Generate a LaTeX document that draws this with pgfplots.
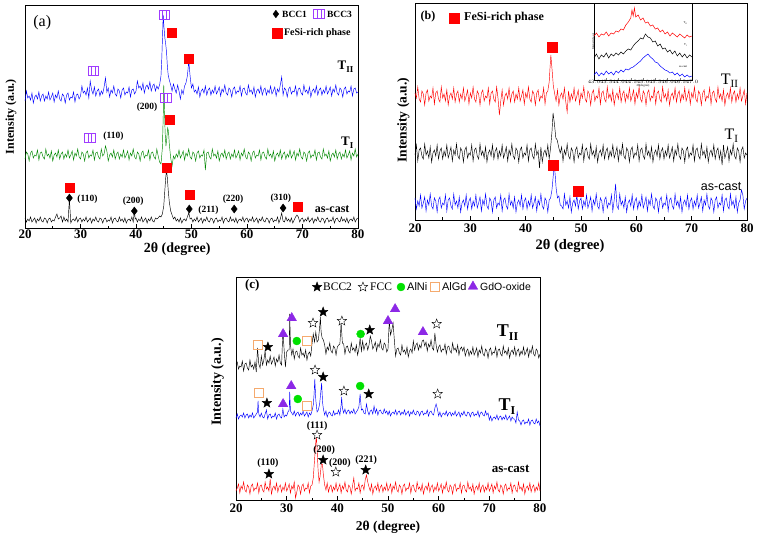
\documentclass[border=0pt]{standalone}
\usepackage{pgfplots}
\pgfplotsset{compat=1.18}
\usepackage{fontspec}
\setmainfont{Liberation Serif}
\newfontfamily\arialf{Liberation Sans}
\definecolor{bccp}{RGB}{160,60,255}
\definecolor{gdo}{RGB}{140,40,230}
\definecolor{algd}{RGB}{245,170,110}
\definecolor{alni}{RGB}{0,225,0}
\definecolor{tgreen}{RGB}{0,135,0}
\pgfdeclareplotmark{bccthree}{%
  \pgfpathrectangle{\pgfpoint{-1.2\pgfplotmarksize}{-\pgfplotmarksize}}{\pgfpoint{2.4\pgfplotmarksize}{2\pgfplotmarksize}}%
  \pgfpathmoveto{\pgfpoint{-0.4\pgfplotmarksize}{-\pgfplotmarksize}}\pgfpathlineto{\pgfpoint{-0.4\pgfplotmarksize}{\pgfplotmarksize}}%
  \pgfpathmoveto{\pgfpoint{0.4\pgfplotmarksize}{-\pgfplotmarksize}}\pgfpathlineto{\pgfpoint{0.4\pgfplotmarksize}{\pgfplotmarksize}}%
  \pgfusepathqstroke}
\pgfdeclareplotmark{fivestar}{%
  \pgfpathmoveto{\pgfpointpolar{90}{\pgfplotmarksize}}%
  \pgfpathlineto{\pgfpointpolar{126}{0.42\pgfplotmarksize}}%
  \pgfpathlineto{\pgfpointpolar{162}{\pgfplotmarksize}}%
  \pgfpathlineto{\pgfpointpolar{198}{0.42\pgfplotmarksize}}%
  \pgfpathlineto{\pgfpointpolar{234}{\pgfplotmarksize}}%
  \pgfpathlineto{\pgfpointpolar{270}{0.42\pgfplotmarksize}}%
  \pgfpathlineto{\pgfpointpolar{306}{\pgfplotmarksize}}%
  \pgfpathlineto{\pgfpointpolar{342}{0.42\pgfplotmarksize}}%
  \pgfpathlineto{\pgfpointpolar{18}{\pgfplotmarksize}}%
  \pgfpathlineto{\pgfpointpolar{54}{0.42\pgfplotmarksize}}%
  \pgfpathclose\pgfusepathqfillstroke}
\pgfplotsset{
  xrdaxis/.style={scale only axis, xmin=20, xmax=80, ymin=0,
    xtick={20,30,...,80}, minor x tick num=1, ytick=\empty,
    tick align=inside, xtick pos=left,
    axis line style={line width=0.8pt},
    major tick length=4pt, minor tick length=2.5pt,
    every tick/.style={black, line width=0.8pt},
    /pgf/number format/assume math mode=true,
    xticklabel style={font=\bfseries\fontsize{13}{13}\selectfont},
    clip=false, ylabel={Intensity (a.u.)}, xlabel={2θ (degree)}},
  trace/.style={line width=0.45pt, forget plot},
}
\begin{document}
\begin{tikzpicture}[x=1pt,y=1pt]
\path[use as bounding box] (0,0) rectangle (758,539);
% ================= panel (a) =================
\begin{axis}[xrdaxis, at={(25pt,311pt)}, anchor=south west, width=333pt, height=223pt, ymax=223,
  xticklabel style={yshift=2pt},
  ylabel style={at={(rel axis cs:-0.015,0.5)}, anchor=south, font=\bfseries\fontsize{12}{12}\selectfont},
  xlabel style={at={(rel axis cs:0.457,0)}, anchor=center, yshift=-21pt, font=\bfseries\fontsize{14}{14}\selectfont}]
\addplot[black, trace] coordinates {(20,10)(20.25,6)(20.5,9)(20.75,7)(21,11)(21.25,6)(21.5,8)(21.75,10)(22,5)(22.25,9)(22.5,7)(22.75,11)(23,7)(23.25,6)(23.5,10)(23.75,9)(24,5)(24.25,9)(24.5,10)(24.75,6)(25,8)(25.25,7)(25.5,11)(25.75,14)(26,9)(26.25,10)(26.5,12)(26.75,6)(27,11)(27.25,7)(27.5,9)(27.75,6)(28,29)(28.25,5)(28.5,8)(28.75,9)(29,7)(29.25,11)(29.5,6)(29.75,9)(30,10)(30.25,6)(30.5,9)(30.75,7)(31,11)(31.25,6)(31.5,8)(31.75,10)(32,5)(32.25,9)(32.5,7)(32.75,11)(33,7)(33.25,6)(33.5,10)(33.75,9)(34,5)(34.25,9)(34.5,10)(34.75,6)(35,8)(35.25,7)(35.5,11)(35.75,5)(36,9)(36.25,10)(36.5,7)(36.75,6)(37,11)(37.25,7)(37.5,9)(37.75,6)(38,10)(38.25,5)(38.5,8)(38.75,9)(39,7)(39.25,11)(39.5,6)(39.7,17)(39.85,9)(40,10)(40.25,6)(40.5,9)(40.75,7)(41,11)(41.25,6)(41.5,8)(41.75,10)(42,5)(42.25,9)(42.5,7)(42.75,11)(43,7)(43.25,6)(43.5,10)(43.75,9)(44,10)(44.25,12)(44.5,11)(44.75,14)(45,22)(45.2,38)(45.35,50)(45.5,58)(45.65,50)(45.8,38)(46,26)(46.25,17)(46.5,13)(46.75,9)(47,11)(47.25,7)(47.5,9)(47.75,6)(48,10)(48.25,5)(48.5,8)(48.75,9)(49,7)(49.25,11)(49.5,15)(49.65,12)(49.75,9)(50,10)(50.25,6)(50.5,9)(50.75,7)(51,11)(51.25,6)(51.5,8)(51.75,10)(52,5)(52.25,9)(52.5,7)(52.75,11)(53,7)(53.25,6)(53.5,10)(53.75,9)(54,5)(54.25,9)(54.5,10)(54.75,6)(55,8)(55.25,7)(55.5,11)(55.75,5)(56,9)(56.25,10)(56.5,7)(56.75,6)(57,11)(57.25,7)(57.5,9)(57.75,6)(58,10)(58.25,5)(58.5,8)(58.75,9)(59,7)(59.25,11)(59.5,6)(59.75,9)(60,10)(60.25,6)(60.5,9)(60.75,7)(61,11)(61.25,6)(61.5,8)(61.75,10)(62,5)(62.25,9)(62.5,7)(62.75,11)(63,7)(63.25,6)(63.5,10)(63.75,9)(64,5)(64.25,9)(64.5,10)(64.75,6)(65,8)(65.25,7)(65.5,11)(65.75,5)(66,9)(66.25,15)(66.5,7)(66.75,6)(67,11)(67.25,7)(67.5,9)(67.75,6)(68,10)(68.25,5)(68.5,8)(68.75,11)(69,13)(69.25,11)(69.5,6)(69.75,9)(70,10)(70.25,6)(70.5,9)(70.75,7)(71,11)(71.25,6)(71.5,8)(71.75,10)(72,5)(72.25,9)(72.5,7)(72.75,11)(73,7)(73.25,6)(73.5,10)(73.75,9)(74,5)(74.25,9)(74.5,10)(74.75,6)(75,8)(75.25,7)(75.5,11)(75.75,5)(76,9)(76.25,10)(76.5,7)(76.75,6)(77,11)(77.25,7)(77.5,9)(77.75,6)(78,10)(78.25,5)(78.5,8)(78.75,9)(79,7)(79.25,11)(79.5,6)(79.75,9)(80,10)};
\addplot[tgreen, trace] coordinates {(20,69)(20.25,76)(20.5,74)(20.75,67)(21,75)(21.25,77)(21.5,70)(21.75,73)(22,72)(22.25,78)(22.5,68)(22.75,75)(23,76)(23.25,71)(23.5,69)(23.75,79)(24,72)(24.25,74)(24.5,70)(24.75,77)(25,67)(25.25,73)(25.5,75)(25.75,71)(26,78)(26.25,69)(26.5,74)(26.75,76)(27,69)(27.25,74)(27.5,71)(27.75,78)(28,70)(28.25,73)(28.5,77)(28.75,68)(29,75)(29.25,72)(29.5,79)(29.75,71)(30,69)(30.25,76)(30.5,74)(30.75,67)(31,75)(31.25,77)(31.5,70)(31.75,73)(32,72)(32.25,78)(32.5,68)(32.75,75)(33,76)(33.25,71)(33.5,69)(33.75,79)(34,72)(34.25,74)(34.5,82)(34.75,77)(35,67)(35.25,73)(35.5,75)(35.75,71)(36,78)(36.25,69)(36.5,74)(36.75,76)(37,69)(37.25,74)(37.5,71)(37.75,78)(38,70)(38.25,73)(38.5,77)(38.75,68)(39,75)(39.25,72)(39.5,79)(39.75,71)(40,69)(40.25,76)(40.5,74)(40.75,67)(41,75)(41.25,77)(41.5,70)(41.75,73)(42,72)(42.25,78)(42.5,68)(42.75,75)(43,76)(43.25,71)(43.5,69)(43.75,79)(44,72)(44.25,66)(44.5,64)(44.75,80)(44.9,110)(45.0,143)(45.1,125)(45.25,95)(45.4,82)(45.55,90)(45.7,100)(45.85,97)(46.0,84)(46.25,70)(46.5,62)(46.75,72)(47,69)(47.25,74)(47.5,71)(47.75,78)(48,70)(48.25,73)(48.5,77)(48.75,68)(49,75)(49.25,72)(49.5,79)(49.75,71)(50,69)(50.25,76)(50.5,74)(50.75,67)(51,75)(51.25,77)(51.5,70)(51.75,73)(52,72)(52.25,78)(52.5,58)(52.75,75)(53,76)(53.25,71)(53.5,69)(53.75,79)(54,72)(54.25,74)(54.5,70)(54.75,77)(55,67)(55.25,73)(55.5,75)(55.75,71)(56,78)(56.25,69)(56.5,74)(56.75,76)(57,69)(57.25,74)(57.5,71)(57.75,78)(58,70)(58.25,73)(58.5,77)(58.75,68)(59,75)(59.25,72)(59.5,79)(59.75,71)(60,69)(60.25,76)(60.5,74)(60.75,67)(61,75)(61.25,77)(61.5,70)(61.75,73)(62,72)(62.25,78)(62.5,68)(62.75,75)(63,76)(63.25,71)(63.5,69)(63.75,79)(64,72)(64.25,74)(64.5,70)(64.75,77)(65,67)(65.25,73)(65.5,75)(65.75,71)(66,78)(66.25,69)(66.5,74)(66.75,76)(67,69)(67.25,74)(67.5,71)(67.75,78)(68,70)(68.25,73)(68.5,77)(68.75,68)(69,75)(69.25,72)(69.5,79)(69.75,71)(70,69)(70.25,76)(70.5,74)(70.75,67)(71,75)(71.25,77)(71.5,70)(71.75,73)(72,72)(72.25,78)(72.5,68)(72.75,75)(73,76)(73.25,71)(73.5,69)(73.75,79)(74,72)(74.25,74)(74.5,70)(74.75,77)(75,67)(75.25,73)(75.5,75)(75.75,71)(76,78)(76.25,69)(76.5,74)(76.75,76)(77,69)(77.25,74)(77.5,71)(77.75,78)(78,70)(78.25,73)(78.5,77)(78.75,68)(79,75)(79.25,72)(79.5,79)(79.75,71)(80,74)};
\addplot[blue, trace] coordinates {(20,127)(20.25,137)(20.5,130)(20.75,132)(21,128)(21.25,135)(21.5,125)(21.75,131)(22,133)(22.25,129)(22.5,136)(22.75,127)(23,132)(23.25,134)(23.5,127)(23.75,132)(24,129)(24.25,136)(24.5,128)(24.75,131)(25,135)(25.25,126)(25.5,133)(25.75,130)(26,137)(26.25,129)(26.5,127)(26.75,134)(27,132)(27.25,125)(27.5,133)(27.75,135)(28,128)(28.25,131)(28.5,130)(28.75,136)(29,126)(29.25,133)(29.5,134)(29.75,129)(30,132)(30.25,142)(30.5,135)(30.75,137)(31,133)(31.25,140)(31.5,130)(31.75,147)(32,138)(32.25,134)(32.5,141)(32.75,132)(33,137)(33.25,139)(33.5,132)(33.75,137)(34,134)(34.25,141)(34.5,150)(34.75,136)(35,140)(35.25,131)(35.5,138)(35.75,135)(36,142)(36.25,134)(36.5,132)(36.75,139)(37,137)(37.25,130)(37.5,138)(37.75,140)(38,133)(38.25,136)(38.5,135)(38.75,141)(39,131)(39.25,138)(39.5,139)(39.75,134)(40,137)(40.25,147)(40.5,140)(40.75,142)(41,138)(41.25,145)(41.5,135)(41.75,141)(42,143)(42.25,139)(42.5,146)(42.75,137)(43,142)(43.25,144)(43.5,137)(43.75,142)(44,139)(44.25,143)(44.5,152)(44.65,170)(44.8,195)(44.9,213)(45.05,200)(45.2,190)(45.35,184)(45.5,176)(45.65,162)(45.8,153)(46.0,148)(46.25,143)(46.5,137)(46.75,144)(47.0,139)(47.25,135)(47.5,143)(47.75,137)(48.0,129)(48.25,138)(48.5,134)(48.75,142)(49.0,145)(49.25,152)(49.4,160)(49.5,168)(49.65,158)(49.8,149)(50.0,140)(50.25,144)(50.5,136)(50.75,138)(51,134)(51.25,141)(51.5,131)(51.75,137)(52,139)(52.25,135)(52.5,142)(52.75,133)(53,138)(53.25,140)(53.5,133)(53.75,138)(54,135)(54.25,142)(54.5,134)(54.75,137)(55,141)(55.25,132)(55.5,139)(55.75,136)(56,143)(56.25,135)(56.5,133)(56.75,140)(57,138)(57.25,131)(57.5,139)(57.75,141)(58,134)(58.25,137)(58.5,136)(58.75,142)(59,132)(59.25,139)(59.5,140)(59.75,135)(60,133)(60.25,143)(60.5,136)(60.75,138)(61,134)(61.25,141)(61.5,131)(61.75,137)(62,139)(62.25,135)(62.5,142)(62.75,133)(63,138)(63.25,140)(63.5,133)(63.75,138)(64,135)(64.25,142)(64.5,134)(64.75,137)(65,141)(65.25,132)(65.5,139)(65.75,136)(66,143)(66.25,151)(66.5,133)(66.75,140)(67,138)(67.25,131)(67.5,139)(67.75,141)(68,134)(68.25,137)(68.5,136)(68.75,142)(69,132)(69.25,139)(69.5,140)(69.75,135)(70,133)(70.25,143)(70.5,136)(70.75,138)(71,134)(71.25,141)(71.5,131)(71.75,137)(72,139)(72.25,135)(72.5,142)(72.75,133)(73,138)(73.25,140)(73.5,133)(73.75,138)(74,135)(74.25,142)(74.5,134)(74.75,137)(75,141)(75.25,132)(75.5,139)(75.75,136)(76,143)(76.25,135)(76.5,133)(76.75,140)(77,138)(77.25,131)(77.5,139)(77.75,141)(78,134)(78.25,137)(78.5,136)(78.75,142)(79,132)(79.25,139)(79.5,140)(79.75,135)(80,136)};
% phase markers
\addplot[only marks, mark=diamond*, black, mark size=4, forget plot] coordinates {(28.0,30)(39.7,17)(49.6,19)(57.7,19)(66.5,20)};
\addplot[only marks, mark=square*, red, mark size=4.5, forget plot] coordinates {(28.0,40)(45.6,60)(49.6,33)(69.2,21)(46.1,108)(46.5,195)(49.5,169)};
\addplot[only marks, mark=bccthree, bccp, mark size=4.5, line width=0.6pt, forget plot] coordinates {(31.7,90)(45.4,130)(32.3,157)(45.1,213)};
% key symbols
\addplot[only marks, mark=diamond*, black, mark size=3.8, forget plot] coordinates {(65.2,214)};
\addplot[only marks, mark=bccthree, bccp, mark size=4.5, line width=0.6pt, forget plot] coordinates {(73.0,214)};
\addplot[only marks, mark=square*, red, mark size=5, forget plot] coordinates {(65.4,195)};
\node[anchor=west, inner sep=0pt, font=\bfseries\fontsize{9.5}{9.5}\selectfont] at (axis cs:66.3,214) {BCC1};
\node[anchor=west, inner sep=0pt, font=\bfseries\fontsize{9.5}{9.5}\selectfont] at (axis cs:74.4,214) {BCC3};
\node[anchor=west, inner sep=0pt, font=\bfseries\fontsize{10}{10}\selectfont] at (axis cs:66.65,195) {FeSi-rich phase};
% labels
\node[font=\fontsize{16}{16}\selectfont] at (axis cs:23.1,205) {(a)};
\node[anchor=base east, font=\bfseries\fontsize{13}{13}\selectfont] at (axis cs:79.8,158) {T\raisebox{-3pt}{\fontsize{9}{9}\selectfont II}};
\node[anchor=base east, font=\bfseries\fontsize{13}{13}\selectfont] at (axis cs:79.8,82) {T\raisebox{-3pt}{\fontsize{9}{9}\selectfont I}};
\node[anchor=east, font=\bfseries\fontsize{12}{12}\selectfont] at (axis cs:79.1,19) {as-cast};
\begin{scope}[every node/.style={font=\bfseries\fontsize{9.5}{9.5}\selectfont}]
\node[anchor=west] at (axis cs:28.8,29) {(110)};
\node at (axis cs:39.5,27) {(200)};
\node[anchor=west] at (axis cs:50.6,18) {(211)};
\node at (axis cs:57.5,29) {(220)};
\node at (axis cs:66.1,30) {(310)};
\node[anchor=west] at (axis cs:33.5,92) {(110)};
\node at (axis cs:42.0,121) {(200)};
\end{scope}
\end{axis}
% ================= panel (b) =================
\begin{axis}[xrdaxis, at={(415pt,319pt)}, anchor=south west, width=332pt, height=217pt, ymax=217,
  ylabel style={at={(rel axis cs:-0.006,0.46)}, anchor=south, font=\bfseries\fontsize{13.5}{13.5}\selectfont},
  xlabel style={at={(rel axis cs:0.467,0)}, anchor=center, yshift=-26pt, font=\bfseries\fontsize{14.5}{14.5}\selectfont}]
\addplot[blue, trace] coordinates {(20,22)(20.25,11)(20.5,19)(20.75,14)(21,25)(21.25,12)(21.5,17)(21.75,23)(22,9)(22.25,20)(22.5,15)(22.75,26)(23,14)(23.25,11)(23.5,22)(23.75,19)(24,8)(24.25,20)(24.5,23)(24.75,12)(25,17)(25.25,15)(25.5,25)(25.75,9)(26,20)(26.25,22)(26.5,14)(26.75,11)(27,26)(27.25,15)(27.5,19)(27.75,12)(28,23)(28.25,8)(28.5,17)(28.75,20)(29,14)(29.25,25)(29.5,11)(29.75,19)(30,22)(30.25,11)(30.5,19)(30.75,14)(31,25)(31.25,12)(31.5,17)(31.75,23)(32,9)(32.25,20)(32.5,15)(32.75,26)(33,14)(33.25,11)(33.5,22)(33.75,19)(34,8)(34.25,20)(34.5,23)(34.75,12)(35,17)(35.25,15)(35.5,25)(35.75,9)(36,20)(36.25,22)(36.5,14)(36.75,11)(37,26)(37.25,15)(37.5,19)(37.75,12)(38,23)(38.25,8)(38.5,17)(38.75,20)(39,14)(39.25,25)(39.5,11)(39.75,19)(40,22)(40.25,11)(40.5,19)(40.75,14)(41,25)(41.25,12)(41.5,17)(41.75,23)(42,9)(42.25,20)(42.5,15)(42.75,26)(43,14)(43.25,11)(43.5,22)(43.75,19)(44,8)(44.25,20)(44.5,22)(44.75,30)(45.0,45)(45.15,57)(45.35,44)(45.5,32)(45.75,22)(46,24)(46.25,15)(46.5,14)(46.75,11)(47,26)(47.25,15)(47.5,19)(47.75,12)(48,23)(48.25,8)(48.5,17)(48.75,20)(49,14)(49.25,25)(49.5,11)(49.75,19)(50,22)(50.25,11)(50.5,19)(50.75,14)(51,25)(51.25,12)(51.5,17)(51.75,23)(52,9)(52.25,20)(52.5,15)(52.75,26)(53,14)(53.25,11)(53.5,22)(53.75,19)(54,8)(54.25,20)(54.5,23)(54.75,12)(55,17)(55.25,15)(55.5,25)(55.75,9)(56,20)(56.25,36)(56.5,14)(56.75,11)(57,26)(57.25,15)(57.5,19)(57.75,12)(58,23)(58.25,8)(58.5,17)(58.75,20)(59,14)(59.25,25)(59.5,11)(59.75,19)(60,22)(60.25,11)(60.5,19)(60.75,14)(61,25)(61.25,12)(61.5,17)(61.75,23)(62,9)(62.25,20)(62.5,15)(62.75,26)(63,14)(63.25,11)(63.5,22)(63.75,19)(64,8)(64.25,20)(64.5,23)(64.75,12)(65,17)(65.25,15)(65.5,25)(65.75,9)(66,20)(66.25,22)(66.5,14)(66.75,11)(67,26)(67.25,15)(67.5,19)(67.75,12)(68,23)(68.25,8)(68.5,17)(68.75,20)(69,14)(69.25,25)(69.5,11)(69.75,19)(70,22)(70.25,11)(70.5,19)(70.75,14)(71,25)(71.25,12)(71.5,17)(71.75,23)(72,9)(72.25,20)(72.5,15)(72.75,26)(73,14)(73.25,11)(73.5,22)(73.75,19)(74,8)(74.25,20)(74.5,23)(74.75,12)(75,17)(75.25,15)(75.5,25)(75.75,9)(76,20)(76.25,22)(76.5,14)(76.75,11)(77,26)(77.25,15)(77.5,19)(77.75,12)(78,23)(78.25,8)(78.5,17)(78.75,20)(79,30)(79.25,25)(79.5,11)(79.75,19)(80,22)};
\addplot[black, trace] coordinates {(20,65)(20.25,75)(20.5,59)(20.75,70)(21,72)(21.25,64)(21.5,61)(21.75,76)(22,65)(22.25,69)(22.5,62)(22.75,73)(23,58)(23.25,67)(23.5,70)(23.75,64)(24,75)(24.25,61)(24.5,69)(24.75,72)(25,61)(25.25,69)(25.5,64)(25.75,75)(26,62)(26.25,67)(26.5,73)(26.75,59)(27,70)(27.25,65)(27.5,76)(27.75,64)(28,61)(28.25,72)(28.5,69)(28.75,58)(29,70)(29.25,73)(29.5,62)(29.75,67)(30,65)(30.25,75)(30.5,59)(30.75,70)(31,72)(31.25,64)(31.5,61)(31.75,76)(32,65)(32.25,69)(32.5,62)(32.75,73)(33,58)(33.25,67)(33.5,70)(33.75,64)(34,75)(34.25,61)(34.5,69)(34.75,72)(35,61)(35.25,69)(35.5,64)(35.75,75)(36,62)(36.25,67)(36.5,73)(36.75,59)(37,70)(37.25,65)(37.5,76)(37.75,64)(38,61)(38.25,72)(38.5,69)(38.75,58)(39,70)(39.25,73)(39.5,62)(39.75,67)(40,65)(40.25,75)(40.5,59)(40.75,70)(41,72)(41.25,64)(41.5,61)(41.75,76)(42,65)(42.25,69)(42.5,52)(42.75,73)(43,58)(43.25,67)(43.5,70)(43.75,64)(44,75)(44.25,61)(44.5,72)(44.75,88)(44.95,107)(45.2,96)(45.45,82)(45.7,80)(46.0,72)(46.25,67)(46.5,73)(46.75,59)(47,70)(47.25,65)(47.5,76)(47.75,64)(48,61)(48.25,72)(48.5,69)(48.75,58)(49,70)(49.25,73)(49.5,62)(49.75,67)(50,65)(50.25,75)(50.5,59)(50.75,70)(51,72)(51.25,64)(51.5,61)(51.75,76)(52,65)(52.25,69)(52.5,62)(52.75,73)(53,58)(53.25,67)(53.5,70)(53.75,64)(54,75)(54.25,61)(54.5,69)(54.75,72)(55,61)(55.25,69)(55.5,64)(55.75,75)(56,62)(56.25,67)(56.5,73)(56.75,59)(57,70)(57.25,65)(57.5,76)(57.75,64)(58,61)(58.25,72)(58.5,69)(58.75,58)(59,70)(59.25,73)(59.5,62)(59.75,67)(60,65)(60.25,75)(60.5,59)(60.75,70)(61,72)(61.25,64)(61.5,61)(61.75,76)(62,65)(62.25,69)(62.5,62)(62.75,73)(63,58)(63.25,67)(63.5,70)(63.75,64)(64,75)(64.25,61)(64.5,69)(64.75,72)(65,61)(65.25,69)(65.5,64)(65.75,75)(66,62)(66.25,67)(66.5,73)(66.75,59)(67,70)(67.25,65)(67.5,76)(67.75,64)(68,61)(68.25,72)(68.5,69)(68.75,58)(69,70)(69.25,73)(69.5,62)(69.75,67)(70,65)(70.25,75)(70.5,59)(70.75,70)(71,72)(71.25,64)(71.5,61)(71.75,76)(72,65)(72.25,69)(72.5,62)(72.75,73)(73,58)(73.25,67)(73.5,70)(73.75,64)(74,75)(74.25,61)(74.5,69)(74.75,72)(75,61)(75.25,69)(75.5,55)(75.75,75)(76,62)(76.25,67)(76.5,73)(76.75,59)(77,70)(77.25,65)(77.5,76)(77.75,64)(78,61)(78.25,72)(78.5,69)(78.75,58)(79,70)(79.25,73)(79.5,62)(79.75,67)(80,65)};
\addplot[red, trace] coordinates {(20,127)(20.25,122)(20.5,133)(20.75,121)(21,118)(21.25,129)(21.5,126)(21.75,115)(22,127)(22.25,130)(22.5,119)(22.75,124)(23,122)(23.25,132)(23.5,116)(23.75,127)(24,129)(24.25,121)(24.5,118)(24.75,133)(25,122)(25.25,126)(25.5,119)(25.75,130)(26,115)(26.25,124)(26.5,127)(26.75,121)(27,132)(27.25,118)(27.5,126)(27.75,129)(28,118)(28.25,126)(28.5,121)(28.75,132)(29,119)(29.25,124)(29.5,130)(29.75,116)(30,127)(30.25,122)(30.5,133)(30.75,121)(31,118)(31.25,129)(31.5,126)(31.75,115)(32,127)(32.25,130)(32.5,119)(32.75,124)(33,122)(33.25,132)(33.5,116)(33.75,127)(34,129)(34.25,121)(34.5,118)(34.75,133)(35,122)(35.25,105)(35.5,119)(35.75,130)(36,115)(36.25,124)(36.5,127)(36.75,121)(37,132)(37.25,118)(37.5,126)(37.75,129)(38,118)(38.25,126)(38.5,121)(38.75,132)(39,119)(39.25,124)(39.5,130)(39.75,116)(40,127)(40.25,122)(40.5,133)(40.75,121)(41,118)(41.25,129)(41.5,126)(41.75,115)(42,127)(42.25,130)(42.5,119)(42.75,124)(43,122)(43.25,132)(43.5,116)(43.75,127)(44,129)(44.25,138)(44.4,152)(44.55,165)(44.7,155)(44.85,145)(45.0,134)(45.25,126)(45.5,119)(45.75,130)(46,115)(46.25,124)(46.5,127)(46.75,121)(47,132)(47.25,118)(47.5,108)(47.75,129)(48,118)(48.25,126)(48.5,121)(48.75,132)(49,119)(49.25,124)(49.5,130)(49.75,116)(50,127)(50.25,122)(50.5,133)(50.75,121)(51,118)(51.25,129)(51.5,126)(51.75,115)(52,127)(52.25,130)(52.5,119)(52.75,124)(53,122)(53.25,132)(53.5,116)(53.75,127)(54,129)(54.25,121)(54.5,118)(54.75,133)(55,122)(55.25,126)(55.5,119)(55.75,130)(56,115)(56.25,124)(56.5,127)(56.75,121)(57,132)(57.25,118)(57.5,126)(57.75,129)(58,118)(58.25,126)(58.5,121)(58.75,132)(59,119)(59.25,124)(59.5,130)(59.75,116)(60,127)(60.25,122)(60.5,133)(60.75,121)(61,118)(61.25,129)(61.5,126)(61.75,115)(62,127)(62.25,130)(62.5,119)(62.75,124)(63,122)(63.25,132)(63.5,116)(63.75,127)(64,129)(64.25,121)(64.5,118)(64.75,133)(65,122)(65.25,126)(65.5,119)(65.75,130)(66,115)(66.25,124)(66.5,127)(66.75,121)(67,132)(67.25,118)(67.5,126)(67.75,129)(68,118)(68.25,126)(68.5,121)(68.75,132)(69,119)(69.25,124)(69.5,130)(69.75,116)(70,127)(70.25,122)(70.5,133)(70.75,121)(71,118)(71.25,129)(71.5,126)(71.75,115)(72,127)(72.25,130)(72.5,119)(72.75,124)(73,122)(73.25,132)(73.5,116)(73.75,127)(74,129)(74.25,121)(74.5,118)(74.75,133)(75,122)(75.25,126)(75.5,119)(75.75,130)(76,115)(76.25,124)(76.5,127)(76.75,121)(77,132)(77.25,118)(77.5,126)(77.75,129)(78,118)(78.25,126)(78.5,121)(78.75,132)(79,119)(79.25,124)(79.5,130)(79.75,116)(80,127)};
\addplot[only marks, mark=square*, red, mark size=5, forget plot] coordinates {(44.8,173)(45.0,55)(49.5,29)};
% key
\addplot[only marks, mark=square*, red, mark size=5, forget plot] coordinates {(27.05,202)};
\node[anchor=west, inner sep=0pt, font=\bfseries\fontsize{12}{12}\selectfont] at (axis cs:28.85,202) {FeSi-rich phase};
\node[font=\bfseries\fontsize{12}{12}\selectfont] at (axis cs:22.35,203) {(b)};
\node[anchor=base east, font=\fontsize{16}{16}\selectfont] at (axis cs:79.0,135) {T\raisebox{-3pt}{\fontsize{11}{11}\selectfont II}};
\node[anchor=base east, font=\fontsize{16}{16}\selectfont] at (axis cs:79.0,80) {T\raisebox{-3pt}{\fontsize{11}{11}\selectfont I}};
\node[anchor=east, font=\arialf\fontsize{12.5}{12.5}\selectfont] at (axis cs:79.6,33) {as-cast};
\end{axis}
% ================= inset =================
\begin{axis}[scale only axis, at={(594pt,459pt)}, anchor=south west, width=98pt, height=77pt,
  xmin=43, xmax=47, ymin=0, ymax=77, xtick={43,43.5,...,47}, ytick=\empty,
  axis background/.style={fill=white}, axis line style={line width=0.5pt},
  tick align=inside, xtick pos=left, major tick length=1.5pt,
  xticklabel style={font=\fontsize{2.5}{2.5}\selectfont, inner sep=0.3pt},
  /pgf/number format/fixed, /pgf/number format/fixed zerofill, /pgf/number format/precision=1,
  xlabel={2θ(degree)}, ylabel={Intensity(a.u.)},
  xlabel style={font=\fontsize{3}{3}\selectfont, inner sep=0.3pt},
  ylabel style={font=\fontsize{3}{3}\selectfont, inner sep=0pt, yshift=-1pt}, clip=false]
\addplot[red, line width=0.5pt] coordinates {(43.0,44)(43.1,47)(43.2,43)(43.3,46)(43.4,45)(43.5,48)(43.6,44)(43.7,47)(43.8,46)(43.9,49)(44.0,48)(44.1,51)(44.2,50)(44.3,55)(44.4,58)(44.5,62)(44.55,70)(44.6,64)(44.65,72)(44.7,63)(44.8,65)(44.9,60)(45.0,62)(45.1,57)(45.2,58)(45.3,54)(45.4,55)(45.5,51)(45.6,52)(45.7,48)(45.8,50)(45.9,46)(46.0,48)(46.1,44)(46.2,47)(46.3,45)(46.4,43)(46.5,46)(46.6,44)(46.7,42)(46.8,45)(46.9,43)(47.0,44)};
\addplot[black, line width=0.5pt] coordinates {(43.0,22)(43.1,26)(43.2,21)(43.3,25)(43.4,23)(43.5,27)(43.6,22)(43.7,26)(43.8,24)(43.9,27)(44.0,25)(44.1,28)(44.2,26)(44.3,29)(44.4,31)(44.5,30)(44.6,34)(44.7,37)(44.8,39)(44.9,42)(45.0,41)(45.1,46)(45.2,43)(45.3,42)(45.4,38)(45.5,39)(45.6,34)(45.7,36)(45.8,31)(45.9,32)(46.0,28)(46.1,30)(46.2,26)(46.3,29)(46.4,24)(46.5,27)(46.6,23)(46.7,26)(46.8,22)(46.9,25)(47.0,23)};
\addplot[blue, line width=0.5pt] coordinates {(43.0,5)(43.1,8)(43.2,4)(43.3,7)(43.4,5)(43.5,9)(43.6,6)(43.7,8)(43.8,5)(43.9,9)(44.0,7)(44.1,10)(44.2,8)(44.3,11)(44.4,10)(44.5,12)(44.6,13)(44.7,15)(44.8,17)(44.9,19)(45.0,22)(45.1,24)(45.2,26)(45.3,23)(45.4,21)(45.5,18)(45.6,17)(45.7,14)(45.8,12)(45.9,10)(46.0,9)(46.1,7)(46.2,8)(46.3,5)(46.4,7)(46.5,4)(46.6,6)(46.7,3)(46.8,5)(46.9,3)(47.0,4)};
\node[font=\fontsize{3}{3}\selectfont, anchor=east] at (axis cs:46.95,57) {T\textsubscript{II}};
\node[font=\fontsize{3}{3}\selectfont, anchor=east] at (axis cs:46.95,35) {T\textsubscript{I}};
\node[font=\fontsize{3}{3}\selectfont, anchor=east] at (axis cs:46.95,13) {as-cast};
\end{axis}
% ================= panel (c) =================
\begin{axis}[xrdaxis, at={(236pt,39pt)}, anchor=south west, width=304pt, height=223pt, ymax=223,
  ylabel style={at={(rel axis cs:-0.028,0.53)}, anchor=south, font=\bfseries\fontsize{14}{14}\selectfont},
  xlabel style={at={(rel axis cs:0.5,0)}, anchor=center, yshift=-27pt, font=\bfseries\fontsize{13.5}{13.5}\selectfont}]
\addplot[red, trace] coordinates {(20,9)(20.25,12)(20.5,16)(20.75,7)(21,14)(21.25,11)(21.5,18)(21.75,10)(22,8)(22.25,15)(22.5,13)(22.75,6)(23,14)(23.25,16)(23.5,9)(23.75,12)(24,11)(24.25,17)(24.5,7)(24.75,14)(25,15)(25.25,10)(25.5,8)(25.75,18)(26,11)(26.25,13)(26.5,9)(26.75,21)(27,6)(27.25,12)(27.5,14)(27.75,10)(28,17)(28.25,8)(28.5,13)(28.75,15)(29,8)(29.25,13)(29.5,10)(29.75,17)(30,9)(30.25,12)(30.5,16)(30.75,7)(31,14)(31.25,11)(31.5,18)(31.75,2)(32,8)(32.25,15)(32.5,13)(32.75,6)(33,14)(33.25,16)(33.5,9)(33.75,12)(34,11)(34.25,17)(34.5,7)(34.75,14)(35,15)(35.25,22)(35.5,40)(35.7,55)(35.85,64)(36.0,52)(36.2,30)(36.4,18)(36.6,24)(36.85,36)(37.05,36)(37.25,25)(37.5,15)(37.75,10)(38,17)(38.25,8)(38.5,13)(38.75,15)(39,8)(39.25,13)(39.5,10)(39.75,17)(40,9)(40.25,12)(40.5,16)(40.75,7)(41,14)(41.25,11)(41.5,18)(41.75,10)(42,8)(42.25,15)(42.5,13)(42.75,6)(43,14)(43.25,22)(43.5,9)(43.75,12)(44,11)(44.25,17)(44.5,7)(44.75,14)(45,15)(45.25,10)(45.5,20)(45.75,25)(46,18)(46.25,13)(46.5,9)(46.75,16)(47,6)(47.25,12)(47.5,14)(47.75,10)(48,17)(48.25,8)(48.5,13)(48.75,15)(49,8)(49.25,13)(49.5,10)(49.75,17)(50,9)(50.25,12)(50.5,16)(50.75,7)(51,14)(51.25,11)(51.5,18)(51.75,10)(52,8)(52.25,15)(52.5,13)(52.75,6)(53,14)(53.25,16)(53.5,9)(53.75,12)(54,11)(54.25,17)(54.5,7)(54.75,14)(55,15)(55.25,10)(55.5,8)(55.75,18)(56,11)(56.25,13)(56.5,9)(56.75,16)(57,6)(57.25,12)(57.5,14)(57.75,10)(58,17)(58.25,8)(58.5,13)(58.75,15)(59,8)(59.25,13)(59.5,10)(59.75,17)(60,9)(60.25,12)(60.5,16)(60.75,7)(61,14)(61.25,11)(61.5,18)(61.75,10)(62,8)(62.25,15)(62.5,13)(62.75,6)(63,14)(63.25,16)(63.5,9)(63.75,12)(64,11)(64.25,17)(64.5,7)(64.75,14)(65,15)(65.25,10)(65.5,8)(65.75,18)(66,11)(66.25,13)(66.5,9)(66.75,16)(67,6)(67.25,12)(67.5,14)(67.75,10)(68,17)(68.25,8)(68.5,13)(68.75,15)(69,8)(69.25,13)(69.5,10)(69.75,17)(70,9)(70.25,12)(70.5,16)(70.75,7)(71,14)(71.25,11)(71.5,18)(71.75,10)(72,8)(72.25,15)(72.5,13)(72.75,6)(73,14)(73.25,16)(73.5,9)(73.75,12)(74,11)(74.25,17)(74.5,7)(74.75,14)(75,15)(75.25,10)(75.5,8)(75.75,18)(76,11)(76.25,13)(76.5,9)(76.75,16)(77,6)(77.25,12)(77.5,14)(77.75,10)(78,17)(78.25,8)(78.5,13)(78.75,15)(79,8)(79.25,13)(79.5,10)(79.75,17)(80,9)};
\addplot[blue, trace] coordinates {(20,82)(20.25,86)(20.5,81)(20.75,84)(21,85)(21.25,83)(21.5,87)(21.75,82)(22,85)(22.25,86)(22.5,82)(22.75,85)(23,83)(23.25,87)(23.5,82)(23.75,84)(24,86)(24.25,88)(24.35,99)(24.5,86)(24.75,83)(25,87)(25.25,83)(25.5,82)(25.75,86)(26,90)(26.25,81)(26.5,85)(26.75,86)(27,82)(27.25,84)(27.5,83)(27.75,87)(28,81)(28.25,85)(28.5,86)(28.75,83)(29,82)(29.25,91)(29.5,83)(29.75,85)(30,84)(30.25,88)(30.5,90)(30.6,108)(30.75,89)(31,87)(31.25,85)(31.5,89)(31.75,84)(32,87)(32.25,88)(32.5,84)(32.75,87)(33,85)(33.25,89)(33.5,84)(33.75,86)(34,88)(34.25,83)(34.5,87)(34.75,85)(35,89)(35.25,95)(35.4,105)(35.55,121)(35.75,100)(36,88)(36.25,90)(36.5,96)(36.7,106)(36.9,117)(37.1,97)(37.25,91)(37.5,85)(37.75,89)(38,83)(38.25,87)(38.5,88)(38.75,85)(39,84)(39.25,89)(39.5,85)(39.75,87)(40,86)(40.25,90)(40.5,85)(40.75,95)(40.85,103)(41,92)(41.25,87)(41.5,91)(41.75,86)(42,89)(42.25,90)(42.5,86)(42.75,89)(43,87)(43.25,91)(43.5,86)(43.75,88)(44,90)(44.25,93)(44.5,106)(44.65,96)(44.75,90)(45,91)(45.25,87)(45.5,86)(45.75,96)(46,89)(46.25,85)(46.5,89)(46.75,90)(47,86)(47.25,94)(47.5,87)(47.75,91)(48,85)(48.25,89)(48.5,90)(48.75,87)(49,86)(49.25,91)(49.5,87)(49.75,89)(50,85)(50.25,89)(50.5,84)(50.75,87)(51,88)(51.25,86)(51.5,90)(51.75,85)(52,88)(52.25,89)(52.5,85)(52.75,88)(53,86)(53.25,90)(53.5,85)(53.75,87)(54,89)(54.25,84)(54.5,88)(54.75,86)(55,90)(55.25,86)(55.5,85)(55.75,89)(56,88)(56.25,84)(56.5,88)(56.75,89)(57,85)(57.25,87)(57.5,86)(57.75,90)(58,84)(58.25,88)(58.5,89)(58.75,86)(59,85)(59.25,92)(59.5,96)(59.75,91)(60,84)(60.25,88)(60.5,83)(60.75,86)(61,87)(61.25,85)(61.5,89)(61.75,84)(62,87)(62.25,88)(62.5,84)(62.75,87)(63,85)(63.25,89)(63.5,84)(63.75,86)(64,88)(64.25,83)(64.5,87)(64.75,85)(65,89)(65.25,85)(65.5,84)(65.75,88)(66,87)(66.25,83)(66.5,87)(66.75,88)(67,84)(67.25,86)(67.5,85)(67.75,89)(68,83)(68.25,87)(68.5,88)(68.75,85)(69,84)(69.25,89)(69.5,85)(69.75,87)(70,80)(70.25,84)(70.5,79)(70.75,82)(71,83)(71.25,81)(71.5,85)(71.75,80)(72,83)(72.25,84)(72.5,80)(72.75,83)(73,81)(73.25,85)(73.5,80)(73.75,82)(74,84)(74.25,79)(74.5,83)(74.75,81)(75,81)(75.25,77)(75.5,88)(75.75,80)(76,79)(76.25,75)(76.5,79)(76.75,80)(77,76)(77.25,78)(77.5,77)(77.75,81)(78,75)(78.25,79)(78.5,80)(78.75,77)(79,76)(79.25,81)(79.5,77)(79.75,79)(80,74)};
\addplot[black, trace] coordinates {(20,136)(20.25,138)(20.5,131)(20.75,134)(21,133)(21.25,139)(21.5,129)(21.75,136)(22,137)(22.25,132)(22.5,130)(22.75,140)(23,133)(23.25,135)(23.5,131)(23.75,138)(24,128)(24.25,152)(24.5,136)(24.75,132)(25,144)(25.25,135)(25.5,140)(25.75,149)(26,135)(26.25,140)(26.5,137)(26.75,144)(27,136)(27.25,139)(27.5,143)(27.75,134)(28,141)(28.25,138)(28.5,145)(28.75,137)(29,135)(29.25,170)(29.5,150)(29.75,133)(30,148)(30.25,150)(30.5,150)(30.6,186)(30.75,155)(31,145)(31.25,151)(31.5,141)(31.75,148)(32,149)(32.25,144)(32.5,142)(32.75,152)(33,145)(33.25,147)(33.5,143)(33.75,150)(34,140)(34.25,146)(34.5,148)(34.75,144)(35,156)(35.25,166)(35.5,158)(35.75,168)(36,158)(36.25,160)(36.5,172)(36.65,183)(36.8,168)(37,162)(37.25,160)(37.5,155)(37.75,146)(38,153)(38.25,150)(38.5,157)(38.75,149)(39,147)(39.25,154)(39.5,152)(39.75,145)(40,153)(40.25,155)(40.5,156)(40.75,177)(41,157)(41.25,156)(41.5,146)(41.75,153)(42,154)(42.25,149)(42.5,147)(42.75,157)(43,150)(43.25,152)(43.5,148)(43.75,155)(44,145)(44.25,151)(44.5,162)(44.75,149)(45,159)(45.25,150)(45.5,155)(45.75,157)(46,150)(46.25,155)(46.5,164)(46.75,159)(47,151)(47.25,154)(47.5,158)(47.75,149)(48,156)(48.25,153)(48.5,160)(48.75,152)(49,150)(49.25,157)(49.5,155)(49.75,148)(50,151)(50.25,179)(50.5,165)(50.75,170)(51,177)(51.25,160)(51.5,144)(51.75,151)(52,152)(52.25,147)(52.5,145)(52.75,155)(53,148)(53.25,150)(53.5,146)(53.75,153)(54,143)(54.25,149)(54.5,151)(54.75,147)(55,159)(55.25,150)(55.5,155)(55.75,157)(56,150)(56.25,155)(56.5,152)(56.75,159)(57,160)(57.25,154)(57.5,158)(57.75,149)(58,156)(58.25,153)(58.5,160)(58.75,152)(59,150)(59.25,167)(59.5,155)(59.75,148)(60,153)(60.25,155)(60.5,148)(60.75,151)(61,150)(61.25,156)(61.5,146)(61.75,153)(62,154)(62.25,149)(62.5,147)(62.75,157)(63,150)(63.25,152)(63.5,148)(63.75,155)(64,145)(64.25,151)(64.5,153)(64.75,149)(65,153)(65.25,144)(65.5,149)(65.75,151)(66,144)(66.25,149)(66.5,146)(66.75,153)(67,145)(67.25,148)(67.5,152)(67.75,143)(68,150)(68.25,147)(68.5,154)(68.75,146)(69,144)(69.25,151)(69.5,149)(69.75,142)(70,150)(70.25,152)(70.5,145)(70.75,148)(71,147)(71.25,153)(71.5,143)(71.75,150)(72,151)(72.25,146)(72.5,144)(72.75,154)(73,147)(73.25,149)(73.5,145)(73.75,152)(74,142)(74.25,148)(74.5,150)(74.75,146)(75,153)(75.25,144)(75.5,149)(75.75,151)(76,144)(76.25,149)(76.5,146)(76.75,153)(77,145)(77.25,148)(77.5,152)(77.75,143)(78,150)(78.25,147)(78.5,154)(78.75,146)(79,144)(79.25,151)(79.5,149)(79.75,142)(80,146)};
% phase markers
\addplot[only marks, mark=fivestar, mark size=5, draw=black, fill=black, forget plot] coordinates {(26.3,153)(37.2,188)(46.4,170)(26.1,97)(37.2,123)(46.2,106)(37.2,40)(26.5,26)(45.6,30)};
\addplot[only marks, mark=fivestar, mark size=5, draw=black, fill=white, line width=0.4pt, forget plot] coordinates {(35.2,177)(40.9,179)(59.6,176)(35.6,130)(41.3,109)(59.8,106)(36.0,65)(39.7,28)};
\addplot[only marks, mark=*, mark size=4, alni, forget plot] coordinates {(32.0,159)(44.6,166)(32.2,101)(44.5,114)};
\addplot[only marks, mark=square, mark size=4.5, algd, line width=0.7pt, forget plot] coordinates {(24.3,155)(34.0,159)(24.5,107)(34.0,94)};
\addplot[only marks, mark=triangle*, mark size=5.5, gdo, forget plot] coordinates {(29.3,166)(31.0,182)(50.0,179)(51.4,191)(56.9,168)(29.3,96)(30.9,114)};
% key symbols
\addplot[only marks, mark=fivestar, mark size=5, draw=black, fill=black, forget plot] coordinates {(36.0,213)};
\addplot[only marks, mark=fivestar, mark size=5, draw=black, fill=white, line width=0.4pt, forget plot] coordinates {(45.06,213)};
\addplot[only marks, mark=*, mark size=4, alni, forget plot] coordinates {(52.56,213)};
\addplot[only marks, mark=square, mark size=4.5, algd, line width=0.7pt, forget plot] coordinates {(59.27,213)};
\addplot[only marks, mark=triangle*, mark size=5.5, gdo, forget plot] coordinates {(66.77,213.5)};
\node[anchor=west, inner sep=0pt, font=\fontsize{11.5}{11.5}\selectfont] at (axis cs:37.17,213) {BCC2};
\node[anchor=west, inner sep=0pt, font=\fontsize{11.5}{11.5}\selectfont] at (axis cs:46.45,213) {FCC};
\node[anchor=west, inner sep=0pt, font=\arialf\fontsize{11}{11}\selectfont] at (axis cs:53.75,213) {AlNi};
\node[anchor=west, inner sep=0pt, font=\arialf\fontsize{11}{11}\selectfont] at (axis cs:60.65,213) {AlGd};
\node[anchor=west, inner sep=0pt, font=\arialf\fontsize{10.5}{10.5}\selectfont] at (axis cs:68.15,213) {GdO-oxide};
% labels
\node[font=\bfseries\fontsize{13}{13}\selectfont] at (axis cs:23.2,215) {(c)};
\node[anchor=base east, font=\bfseries\fontsize{18}{18}\selectfont] at (axis cs:76.4,164) {T\raisebox{-4pt}{\fontsize{12}{12}\selectfont II}};
\node[anchor=base east, font=\bfseries\fontsize{18}{18}\selectfont] at (axis cs:75.8,90) {T\raisebox{-4pt}{\fontsize{12}{12}\selectfont I}};
\node[anchor=east, font=\bfseries\fontsize{13}{13}\selectfont] at (axis cs:78.6,31) {as-cast};
\begin{scope}[every node/.style={font=\bfseries\fontsize{10}{10}\selectfont}]
\node at (axis cs:36.0,74) {(111)};
\node at (axis cs:37.4,50) {(200)};
\node at (axis cs:40.5,37) {(200)};
\node at (axis cs:26.3,37) {(110)};
\node at (axis cs:45.7,40) {(221)};
\end{scope}
\end{axis}
\end{tikzpicture}
\end{document}
